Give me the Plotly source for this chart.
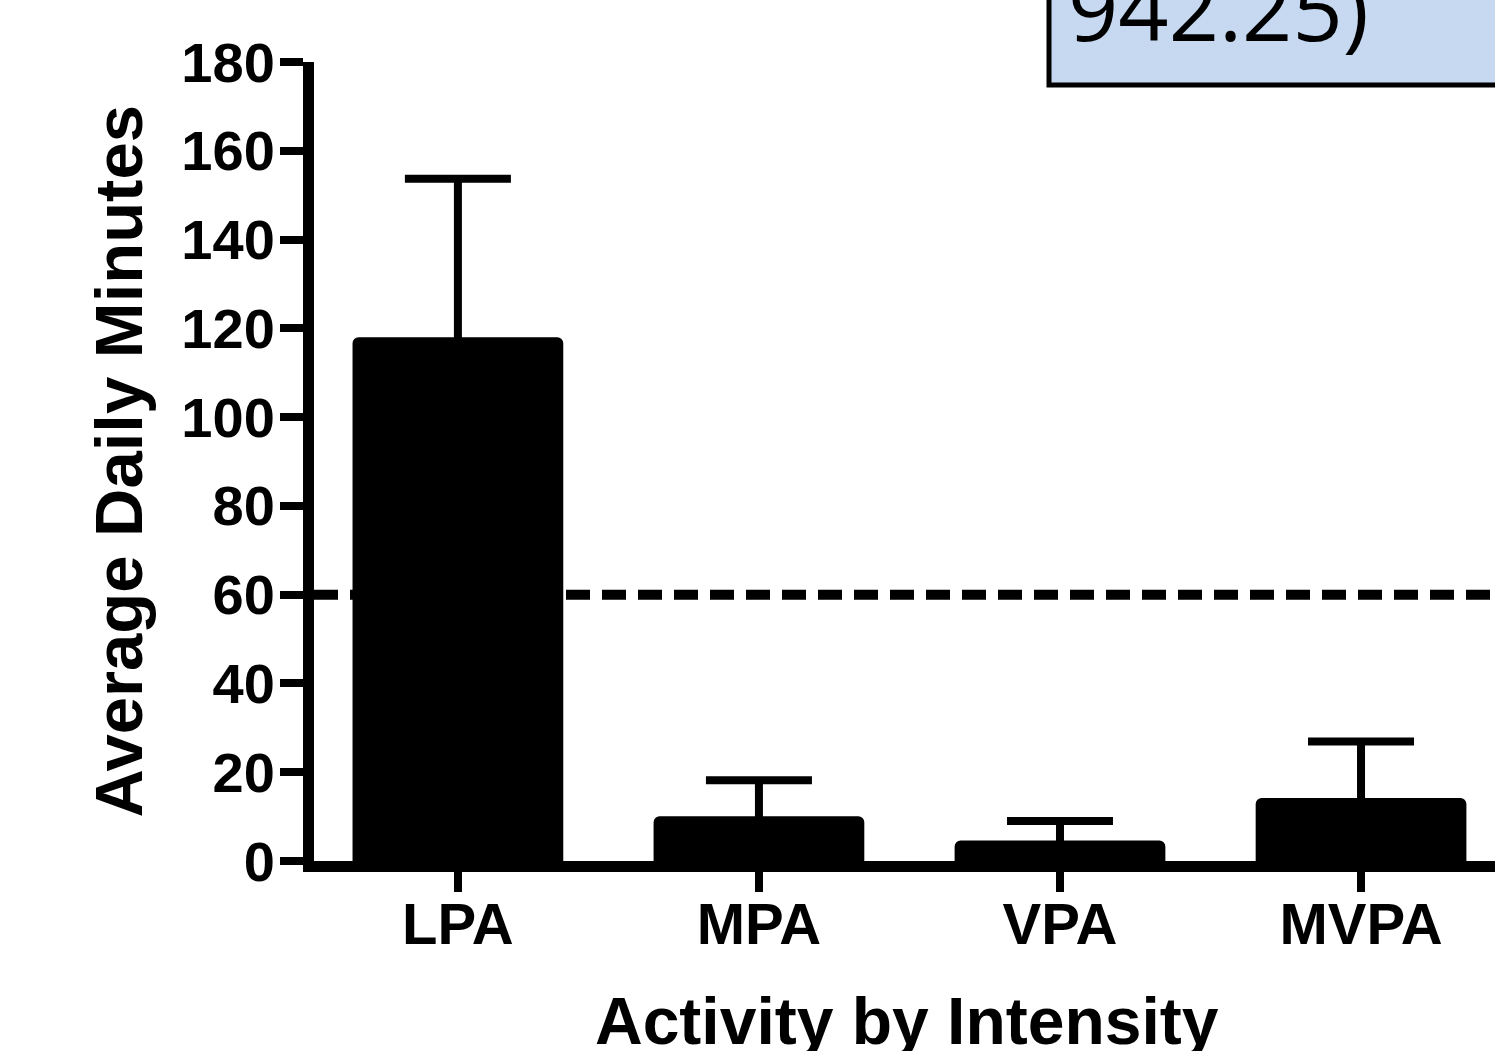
import plotly.graph_objects as go

categories = ["LPA", "MPA", "VPA", "MVPA"]
means = [118.0, 10.1, 4.6, 14.2]
upper = [153.7, 18.2, 9.0, 26.9]
errors = [u - m for u, m in zip(upper, means)]
y_ticks = [0, 20, 40, 60, 80, 100, 120, 140, 160, 180]
reference_line = 60
box_text = "942.25)"

W, H = 1495, 1051
L, R, T, B = 314, 0, 62, 190
PW, PH = W - L - R, H - T - B


def px(x):
    return (x - L) / PW


def py(y):
    return (H - B - y) / PH


fig = go.Figure()
fig.add_trace(go.Bar(
    x=list(range(len(categories))), y=means,
    width=0.7,
    marker=dict(color="black", line=dict(width=0), cornerradius=6),
    error_y=dict(type="data", array=errors, arrayminus=means,
                 symmetric=False, color="black", thickness=8, width=53),
))

fig.add_shape(type="line", xref="paper", yref="y", x0=0, x1=1,
              y0=reference_line, y1=reference_line,
              line=dict(color="black", width=10, dash="24px,12px"), layer="above")

fig.add_shape(type="rect", xref="paper", yref="paper",
              x0=px(1049), x1=1.2, y0=py(85), y1=1.3,
              fillcolor="#c6d9f0", line=dict(color="black", width=5), layer="above")

fig.add_annotation(xref="paper", yref="paper",
                   x=px(1066), y=py(69),
                   xanchor="left", yanchor="bottom", text=box_text, showarrow=False,
                   font=dict(family="Open Sans", size=88, color="black"))

fig.add_annotation(xref="paper", yref="paper",
                   x=px(907), y=py(1060),
                   xanchor="center", yanchor="bottom", text="<b>Activity by Intensity</b>",
                   showarrow=False,
                   font=dict(family="Liberation Sans", size=66, color="black"))

fig.add_annotation(xref="paper", yref="paper",
                   x=px(78), y=py(462),
                   xanchor="left", yanchor="middle", textangle=-90,
                   text="<b>Average Daily Minutes</b>", showarrow=False,
                   font=dict(family="Liberation Sans", size=67, color="black"))

fig.update_layout(
    width=W, height=H,
    margin=dict(l=L, r=R, t=T, b=B, pad=0),
    plot_bgcolor="white", paper_bgcolor="white",
    showlegend=False,
    font=dict(family="Liberation Sans", color="black"),
)
fig.update_xaxes(
    range=[-0.478, 3.445], tickvals=list(range(len(categories))),
    ticktext=[f"<b>{c}</b>" for c in categories],
    showline=True, linewidth=11, linecolor="black",
    ticks="outside", ticklen=20, tickwidth=8, tickcolor="black",
    ticklabelstandoff=-18,
    tickfont=dict(size=58, family="Liberation Sans"),
    showgrid=False, zeroline=False,
)
fig.update_yaxes(
    range=[0, 180], tickvals=y_ticks, ticktext=[f"<b>{v}</b>" for v in y_ticks],
    showline=True, linewidth=11, linecolor="black",
    ticks="outside", ticklen=23, tickwidth=8, tickcolor="black",
    ticklabelstandoff=-6,
    tickfont=dict(size=56, family="Liberation Sans"),
    showgrid=False, zeroline=False,
)

fig.write_html("out.html",
               config={"displayModeBar": False},
               post_script="document.body.style.margin='0';document.body.style.overflow='hidden';")
